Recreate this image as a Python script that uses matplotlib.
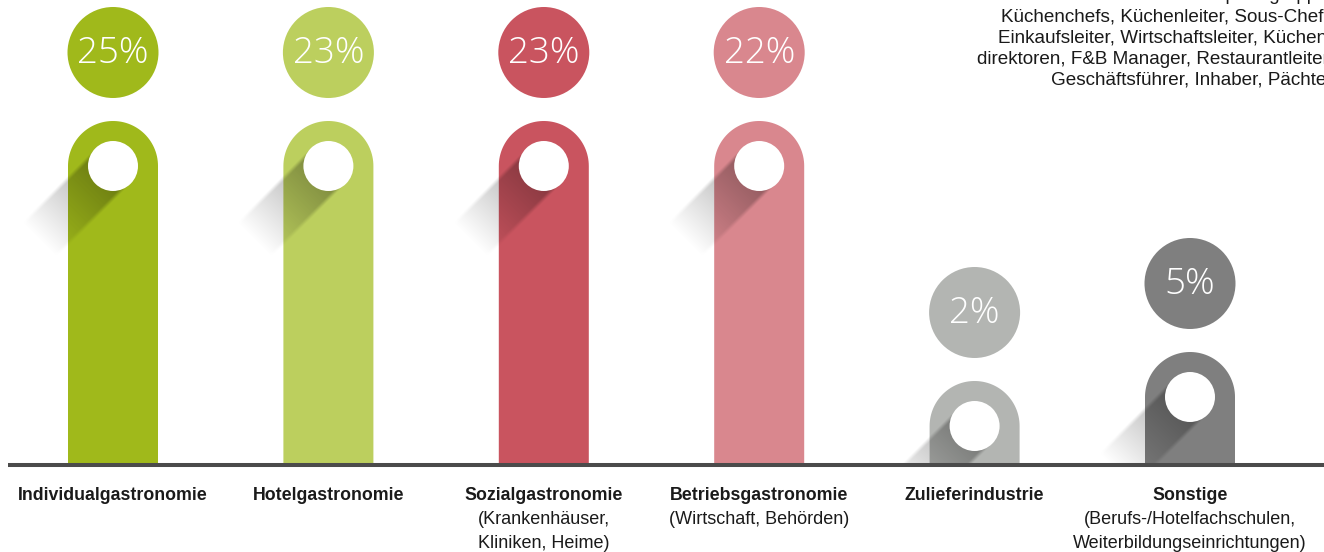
import numpy as np
import matplotlib.pyplot as plt
from matplotlib.patches import Circle, Polygon

categories = ['Individualgastronomie', 'Hotelgastronomie', 'Sozialgastronomie',
              'Betriebsgastronomie', 'Zulieferindustrie', 'Sonstige']
subtitles = [[], [], ['(Krankenhäuser,', 'Kliniken, Heime)'],
             ['(Wirtschaft, Behörden)'], [],
             ['(Berufs-/Hotelfachschulen,', 'Weiterbildungseinrichtungen)']]
percent = [25, 23, 23, 22, 2, 5]
# pin length as drawn in the picture (pixels above the base line)
pin_height = [342, 342, 342, 342, 82, 111]
colors = ['#a0b91b', '#bccf5e', '#c9545f', '#d9878e', '#b3b5b2', '#7f7f7f']
header_lines = ['Hauptzielgruppe:',
                'Küchenchefs, Küchenleiter, Sous-Chefs',
                'Einkaufsleiter, Wirtschaftsleiter, Küchen-',
                'direktoren, F&B Manager, Restaurantleiter,',
                'Geschäftsführer, Inhaber, Pächter']

W, H = 1324, 552
fig = plt.figure(figsize=(W / 100, H / 100), dpi=100)
ax = fig.add_axes([0, 0, 1, 1])
ax.set_xlim(0, W)
ax.set_ylim(-89, 463)
ax.axis('off')

half = 45      # half width of a pin
hole_r = 25
bubble_r = 45.5
step = 215.4
x0 = 113


def pin_outline(xc, h):
    ang = np.linspace(np.pi, 0, 60)
    pts = [(xc - half, 0)]
    pts += list(zip(xc + half * np.cos(ang), h - half + half * np.sin(ang)))
    pts.append((xc + half, 0))
    return pts


def long_shadow(xc, yc, length=105, a0=0.35):
    x_lo, x_hi = xc - length - hole_r, xc + hole_r
    y_lo, y_hi = max(0, yc - length - hole_r), yc + hole_r
    nx, ny = int(x_hi - x_lo) * 2, int(y_hi - y_lo) * 2
    gx, gy = np.meshgrid(np.linspace(x_lo, x_hi, nx), np.linspace(y_lo, y_hi, ny))
    dx, dy = gx - xc, gy - yc
    t = (-dx - dy) / np.sqrt(2)     # along the 45 degree direction
    s = (-dx + dy) / np.sqrt(2)     # across it
    a = a0 * np.clip(1 - t / length, 0, 1)
    a *= np.clip((hole_r - np.abs(s)) / 4, 0, 1)
    a[t < 0] = 0
    img = np.zeros((ny, nx, 4))
    img[..., 3] = a
    ax.imshow(img, extent=(x_lo, x_hi, y_lo, y_hi), origin='lower',
              interpolation='bilinear', aspect='auto', zorder=2)


for i, (cat, p, h, c) in enumerate(zip(categories, percent, pin_height, colors)):
    xc = x0 + step * i
    ax.add_patch(Polygon(pin_outline(xc, h), closed=True, facecolor=c,
                         edgecolor='none', zorder=1))
    long_shadow(xc, h - half)
    ax.add_patch(Circle((xc, h - half), hole_r, facecolor='white',
                        edgecolor='none', zorder=3))
    by = h + 23 + bubble_r
    ax.add_patch(Circle((xc, by), bubble_r, facecolor=c, edgecolor='none', zorder=3))
    ax.text(xc, by - 1, '{}%'.format(p), color='white', fontsize=26.5,
            fontfamily='Open Sans', fontweight='light',
            ha='center', va='center', zorder=4)
    ax.text(xc, -32, cat, fontsize=12.8, fontweight='bold',
            fontfamily='Liberation Sans', color='#1a1a1a',
            ha='center', va='center')
    for j, sub in enumerate(subtitles[i]):
        ax.text(xc, -57 - 23 * j, sub, fontsize=13,
                fontfamily='Liberation Sans', color='#1a1a1a',
                ha='center', va='center')

ax.plot([8, W], [-1.5, -1.5], color='#4b4b4b', linewidth=2.9,
        solid_capstyle='butt', zorder=5)

for k, line in enumerate(header_lines):
    ax.text(1333, 467 - 21 * k, line, fontsize=13.6,
            fontfamily='Liberation Sans', color='#1a1a1a',
            ha='right', va='center')

fig.savefig('out.png', dpi=100)
